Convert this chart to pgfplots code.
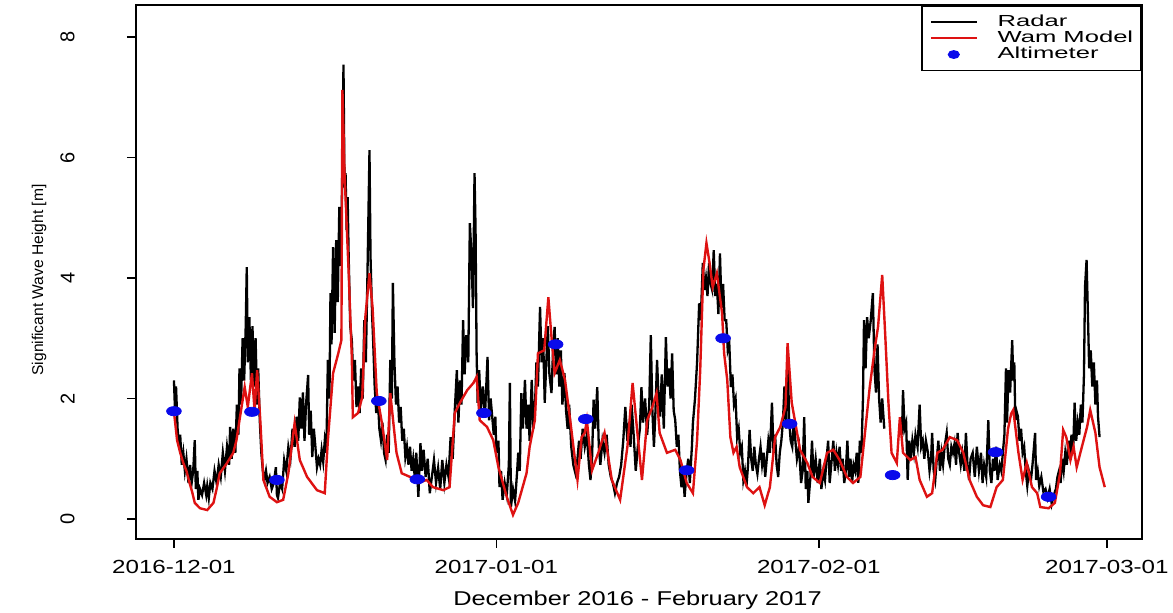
\documentclass[border=0pt]{standalone}
\usepackage{fontspec}
\setmainfont{Liberation Sans}[FakeStretch=1.27]
\newfontfamily\plainsans{Liberation Sans}
\newfontfamily\legfont{Liberation Sans}[FakeStretch=1.6]
\usepackage{pgfplots}
\usepackage{pgfplotstable}
\pgfplotsset{compat=1.18}
\definecolor{wamred}{RGB}{222,18,18}
\definecolor{altblue}{RGB}{10,10,235}

\pgfplotstableread{
x y
0.0 2.3
0.1 1.8
0.2 2.2
0.35 1.5
0.5 1.2
0.6 1.4
0.75 0.9
0.9 1.1
1.05 0.8
1.2 1.0
1.4 0.6
1.55 0.9
1.7 0.6
1.85 0.8
2.0 1.31
2.1 0.5
2.25 0.8
2.35 0.32
2.5 0.5
2.7 0.4
2.9 0.6
3.1 0.4
3.2 0.55
3.35 0.35
3.5 0.6
3.7 0.5
3.9 0.8
4.1 0.6
4.3 0.9
4.5 0.7
4.7 1.1
4.9 0.8
5.1 1.2
5.3 0.9
5.4 1.53
5.55 1.0
5.7 1.5
5.9 1.1
6.05 1.9
6.2 1.4
6.3 2.5
6.45 1.9
6.6 3.0
6.75 2.3
6.9 3.2
7.0 4.18
7.1 2.6
7.25 3.35
7.4 2.3
7.55 3.2
7.7 2.2
7.85 3.0
8.0 1.9
8.1 2.5
8.25 1.64
8.4 1.1
8.55 0.8
8.7 0.65
8.85 0.8
9.0 0.6
9.2 0.7
9.4 0.5
9.6 0.6
9.8 0.86
9.9 0.4
10.0 0.35
10.2 0.6
10.4 0.5
10.6 0.98
10.8 0.8
11.0 1.2
11.2 1.0
11.4 1.5
11.6 1.2
11.8 1.7
11.95 1.3
12.1 2.02
12.25 1.5
12.4 2.1
12.55 1.3
12.7 1.9
12.9 2.39
13.0 1.4
13.15 1.8
13.3 1.03
13.45 1.5
13.6 1.2
13.75 0.86
13.9 1.0
14.05 0.9
14.2 1.15
14.35 0.95
14.5 1.3
14.65 1.1
14.8 2.64
14.95 2.0
15.05 3.75
15.15 2.9
15.3 4.51
15.45 3.09
15.6 4.63
15.75 3.6
15.9 5.18
16.05 4.2
16.2 6.0
16.3 7.54
16.4 5.5
16.5 5.74
16.6 4.8
16.7 5.34
16.8 4.35
16.95 3.2
17.1 2.97
17.25 2.3
17.4 2.64
17.55 1.86
17.7 2.2
17.85 1.76
18.0 2.5
18.15 2.0
18.3 3.3
18.45 2.6
18.6 4.0
18.8 6.12
18.9 4.35
19.05 3.4
19.15 2.97
19.3 2.2
19.45 1.76
19.6 2.0
19.75 1.5
19.9 1.31
20.05 1.6
20.2 1.1
20.35 0.98
20.5 1.4
20.65 1.1
20.8 2.64
20.95 2.0
21.05 3.92
21.2 2.59
21.35 1.9
21.5 2.2
21.65 1.6
21.8 1.86
21.95 1.3
22.1 1.5
22.25 1.03
22.4 1.2
22.55 0.9
22.7 1.2
22.85 0.8
23.0 1.0
23.15 0.7
23.3 1.1
23.5 0.37
23.7 1.26
23.85 0.8
24.0 1.15
24.2 0.7
24.4 1.0
24.6 0.43
24.8 0.7
25.0 0.98
25.2 0.6
25.4 0.85
25.6 0.5
25.8 0.98
26.0 0.6
26.2 0.9
26.4 0.7
26.6 1.36
26.8 1.0
27.0 1.8
27.2 2.47
27.35 1.6
27.5 2.3
27.65 1.9
27.8 3.3
27.95 2.4
28.1 3.05
28.3 2.6
28.45 4.91
28.6 4.41
28.75 3.5
28.9 5.74
29.0 4.80
29.1 2.75
29.2 1.93
29.35 2.47
29.5 1.8
29.7 2.2
29.9 1.7
30.15 2.69
30.3 1.64
30.45 2.0
30.6 1.7
30.75 1.4
30.9 1.7
31.0 1.1
31.2 1.3
31.3 0.53
31.45 0.8
31.6 0.32
31.8 0.6
32.0 0.4
32.2 0.9
32.3 2.26
32.4 0.2
32.6 0.5
32.8 0.3
33.0 0.8
33.1 1.1
33.25 0.8
33.4 2.09
33.55 1.5
33.75 2.31
33.9 1.5
34.05 1.9
34.2 1.3
34.4 2.31
34.55 1.5
34.7 1.8
34.85 2.6
35.0 2.2
35.2 3.52
35.35 2.6
35.5 3.0
35.65 1.93
35.8 2.6
35.95 3.2
36.1 2.4
36.3 2.09
36.45 2.8
36.6 3.19
36.75 2.4
36.9 3.0
37.05 2.2
37.2 2.8
37.35 1.9
37.55 2.42
37.7 1.8
37.85 1.5
38.0 1.9
38.2 1.2
38.4 0.9
38.6 0.76
38.8 1.0
38.95 1.3
39.1 1.0
39.3 1.5
39.5 1.2
39.7 1.4
39.9 0.9
40.05 0.65
40.2 1.0
40.35 1.98
40.5 1.5
40.7 2.19
40.85 1.2
41.0 0.9
41.2 1.3
41.4 1.1
41.6 1.4
41.8 0.9
42.0 0.7
42.2 0.6
42.4 0.43
42.6 0.6
42.8 0.7
43.0 0.9
43.2 1.3
43.4 1.86
43.6 1.3
43.75 1.6
43.9 1.2
44.0 1.9
44.2 1.4
44.4 0.8
44.6 1.2
44.8 1.5
44.95 2.19
45.1 1.6
45.3 2.0
45.5 1.4
45.7 1.9
45.85 3.05
46.0 1.8
46.15 1.2
46.3 1.8
46.45 2.64
46.6 2.0
46.75 1.7
46.9 2.4
47.1 1.5
47.3 3.02
47.45 2.2
47.6 2.5
47.75 2.0
47.9 2.75
48.05 1.8
48.2 1.64
48.35 1.2
48.5 1.4
48.65 0.8
48.8 0.53
48.95 0.8
49.1 0.37
49.3 0.8
49.45 1.0
49.6 0.6
49.8 1.2
49.9 1.6
50.1 2.0
50.3 2.6
50.5 3.58
50.65 3.3
50.85 4.25
51.0 3.8
51.15 4.0
51.3 3.7
51.45 4.25
51.6 3.9
51.75 3.8
51.9 4.46
52.05 3.7
52.2 3.9
52.35 3.4
52.5 4.41
52.65 3.5
52.8 3.9
52.95 3.3
53.1 3.3
53.25 2.8
53.4 2.9
53.55 2.19
53.7 2.4
53.85 1.9
54.0 2.0
54.15 1.36
54.3 1.5
54.45 1.1
54.6 1.2
54.75 0.65
54.9 0.8
55.05 0.55
55.2 0.9
55.35 1.48
55.5 1.0
55.65 0.8
55.8 1.2
55.95 0.9
56.1 0.75
56.25 1.0
56.4 1.2
56.55 0.9
56.7 1.1
56.85 0.7
57.0 1.0
57.15 1.3
57.3 1.1
57.5 1.93
57.65 1.1
57.8 1.4
57.95 0.9
58.1 0.7
58.25 1.1
58.4 1.3
58.55 1.6
58.7 2.2
58.85 1.5
59.0 2.85
59.15 1.64
59.3 1.3
59.45 1.2
59.6 1.64
59.75 1.3
59.9 1.0
60.1 1.2
60.3 0.6
60.45 0.8
60.6 1.69
60.75 0.5
60.9 0.8
61.0 0.27
61.2 0.7
61.35 1.3
61.5 0.7
61.7 1.0
61.9 0.6
62.1 1.0
62.25 0.5
62.45 0.8
62.6 0.65
62.75 1.0
62.9 1.3
63.05 0.6
63.2 0.9
63.4 1.3
63.55 0.8
63.7 1.1
63.85 0.9
64.0 1.2
64.15 0.8
64.3 1.0
64.45 0.6
64.6 0.8
64.75 1.3
64.9 0.7
65.05 1.0
65.2 0.6
65.35 0.9
65.5 0.8
65.65 1.1
65.8 0.6
65.95 1.3
66.1 1.1
66.25 2.0
66.35 3.3
66.5 2.5
66.65 3.35
66.8 3.0
67.0 3.3
67.2 3.75
67.35 2.5
67.5 2.1
67.65 2.9
67.8 2.0
67.95 1.6
68.1 2.0
68.3 1.5
68.8 nan
70.0 1.4
70.1 2.14
70.25 1.5
70.4 1.6
70.55 0.65
70.7 1.3
70.85 1.0
71.0 1.3
71.15 1.1
71.3 1.4
71.5 1.2
71.7 1.9
71.85 1.2
72.0 1.3
72.15 1.0
72.3 1.3
72.5 1.1
72.65 0.8
72.8 1.0
72.9 1.43
73.05 0.8
73.2 0.65
73.35 1.0
73.5 1.3
73.65 0.8
73.8 1.1
73.95 0.9
74.1 1.2
74.3 1.43
74.45 1.0
74.6 0.9
74.75 1.2
74.9 1.1
75.05 1.25
75.2 0.9
75.35 1.43
75.5 1.1
75.65 0.9
75.8 1.1
76.0 0.8
76.15 1.43
76.3 0.9
76.45 0.65
76.6 1.0
76.8 1.1
77.0 0.7
77.2 1.2
77.4 0.8
77.6 1.1
77.75 0.6
77.9 0.9
78.1 0.7
78.3 1.64
78.45 0.8
78.6 0.6
78.75 1.0
78.9 0.8
79.05 1.2
79.2 0.65
79.4 0.9
79.55 0.8
79.7 1.1
79.85 1.4
80.0 2.5
80.1 1.6
80.25 2.47
80.4 2.1
80.6 2.97
80.7 2.3
80.8 2.6
80.9 1.64
81.0 1.8
81.15 1.7
81.3 1.3
81.45 1.5
81.6 1.1
81.75 1.2
81.9 0.8
82.05 0.55
82.2 0.8
82.4 0.65
82.55 0.9
82.8 1.43
82.9 0.65
83.05 0.8
83.2 0.55
83.4 0.7
83.6 0.45
83.8 0.5
84.0 0.35
84.2 0.5
84.4 0.25
84.6 0.4
84.8 0.5
84.95 0.7
85.1 0.8
85.25 0.6
85.4 1.0
85.55 0.8
85.7 1.1
85.85 0.9
86.0 1.3
86.15 1.0
86.3 1.4
86.45 1.1
86.6 1.93
86.75 1.3
86.9 1.6
87.05 1.4
87.2 1.9
87.35 1.6
87.5 2.4
87.6 3.85
87.75 4.30
87.85 3.6
88.0 2.5
88.15 2.8
88.3 2.2
88.45 2.6
88.6 1.9
88.75 2.3
88.85 1.7
89.0 1.36
}\radar

\pgfplotstableread{
x y
0 1.78
0.3 1.31
0.6 1.1
0.9 0.93
1.2 0.8
1.5 0.6
1.75 0.45
2.0 0.27
2.5 0.18
3.2 0.15
3.8 0.27
4.1 0.5
4.4 0.76
5.1 0.93
5.7 1.1
6.0 1.3
6.3 1.64
6.8 2.19
7.1 1.86
7.5 2.42
7.75 1.8
8.0 2.47
8.3 1.64
8.6 0.65
9.2 0.37
9.9 0.28
10.5 0.32
11.0 0.76
11.6 1.59
12.1 0.98
12.8 0.7
13.75 0.48
14.5 0.43
14.8 1.31
15.3 2.42
15.8 2.75
16.1 2.97
16.2 7.12
16.4 5.74
16.8 4.08
17.1 2.69
17.2 1.69
17.7 1.76
18.1 2.02
18.4 3.35
18.8 4.08
19.1 3.5
19.5 2.09
20.0 1.59
20.5 0.98
20.8 2.09
21.1 1.59
21.4 1.10
21.9 0.76
22.7 0.70
23.5 0.6
24.3 0.65
24.9 0.53
25.9 0.48
26.5 0.53
27.0 1.76
27.5 1.93
28.2 2.14
28.8 2.26
29.1 2.36
29.4 1.64
30.1 1.53
30.7 1.31
31.2 0.86
32.0 0.37
32.6 0.07
33.1 0.27
33.9 0.76
34.2 1.2
34.7 1.64
35.0 2.75
35.6 2.8
36.0 3.68
36.3 3.02
36.6 2.42
37.1 2.64
37.6 2.31
38.1 1.64
38.8 0.65
39.2 1.36
39.5 1.43
39.7 1.64
40.2 0.81
40.8 1.1
41.4 1.43
42.1 0.65
42.9 0.32
43.6 1.2
44.1 2.26
44.6 1.36
45.0 0.65
45.5 1.64
46.0 1.86
46.4 2.09
46.7 1.43
47.4 1.1
48.2 1.15
48.7 0.98
49.3 0.6
49.9 0.43
50.3 1.31
50.6 2.47
50.9 4.13
51.2 4.58
51.5 4.25
51.8 3.85
52.2 4.08
52.7 3.42
52.9 2.75
53.2 2.31
53.5 1.36
53.8 1.1
54.1 1.2
54.4 0.86
55.1 0.53
55.7 0.43
56.3 0.53
56.8 0.23
57.3 0.53
57.8 1.36
58.3 1.53
58.8 1.86
59.0 2.92
59.4 1.93
59.7 1.64
60.2 1.15
60.9 0.93
61.4 0.70
62.1 0.6
62.8 1.1
63.4 1.15
64.0 0.98
64.7 0.7
65.3 0.6
66.0 0.7
66.4 1.36
66.9 2.19
67.4 2.85
67.7 3.19
68.1 4.05
68.4 3.02
68.7 1.93
69.0 1.10
69.5 0.93
69.8 1.69
70.1 1.10
70.8 0.98
71.3 1.03
71.7 0.65
72.4 0.37
72.9 0.43
73.4 1.1
73.9 1.15
74.6 1.36
75.3 1.31
75.9 1.1
76.5 0.65
77.2 0.37
77.8 0.23
78.5 0.2
79.1 0.53
79.7 0.65
80.2 1.5
80.5 1.75
80.7 1.81
81.2 1.10
81.6 0.65
82.0 0.93
82.5 0.53
83.0 0.43
83.3 0.2
84.1 0.18
84.7 0.27
85.2 0.76
85.5 1.48
85.8 1.36
86.2 0.98
86.5 1.2
86.8 0.86
87.3 1.2
87.8 1.53
88.1 1.81
88.6 1.43
89.0 0.86
89.5 0.53
}\wam

\pgfplotstableread{
x y
0.0 1.79
7.5 1.78
9.9 0.65
19.7 1.96
23.4 0.66
29.8 1.76
36.7 2.90
39.6 1.66
49.3 0.81
52.8 3.00
59.2 1.58
69.1 0.73
79.0 1.11
84.1 0.37
}\alti

\begin{document}
\begin{tikzpicture}
\begin{axis}[
  at={(68pt,37pt)}, anchor=south west,
  scale only axis, width=503pt, height=267pt,
  xmin=-3.65, xmax=93.08, ymin=-0.33, ymax=8.53,
  axis line style={line width=0.8pt, black},
  xtick={0,31,62,89.7},
  xticklabels={2016-12-01,2017-01-01,2017-02-01,2017-03-01},
  ytick={0,2,4,6,8},
  tick align=outside, tick pos=left,
  major tick length=4.5pt,
  every tick/.style={line width=0.8pt, black},
  /pgf/number format/assume math mode=true,
  xticklabel style={font=\fontsize{9.5}{11}\selectfont, anchor=north, inner sep=0pt, yshift=-6pt},
  yticklabel style={font=\plainsans\fontsize{10}{12}\selectfont, rotate=90, anchor=south, inner sep=0pt},
  yticklabel shift=26pt,
  xlabel={December 2016 - February 2017},
  xlabel style={font=\fontsize{10}{12}\selectfont, at={(axis description cs:0.4985,-0.1142)}, anchor=center},
  ylabel={Significant Wave Height [m]},
  ylabel style={font=\plainsans\fontsize{7.8}{9}\selectfont, at={(axis description cs:-0.0964,0.485)}, anchor=center},
  unbounded coords=jump,
  legend cell align=left,
  legend style={at={(1,1)}, anchor=north east, draw=black, line width=0.8pt,
    font=\legfont\fontsize{8}{9}\selectfont, inner xsep=4pt, inner ysep=4pt,
    row sep=0pt, column sep=10pt,
    nodes={inner sep=0pt, text height=6.2pt, text depth=1.95pt}},
]
\addplot[black, line width=1.15pt, legend image code/.code={\draw[black, line width=0.8pt] (0pt,0pt) -- (23pt,0pt);}] table[x=x,y=y] {\radar};
\addlegendentry{Radar}
\addplot[wamred, line width=1.2pt, legend image code/.code={\draw[wamred, line width=0.8pt] (0pt,0pt) -- (23pt,0pt);}] table[x=x,y=y] {\wam};
\addlegendentry{Wam Model}
\addplot[only marks, mark=*, mark size=2.3pt, mark options={altblue, draw=altblue, xscale=1.6},
  legend image code/.code={\fill[altblue] (11.5pt,0pt) ellipse (2.6pt and 1.8pt);}] table[x=x,y=y] {\alti};
\addlegendentry{Altimeter}
\end{axis}
\pgfresetboundingbox
\path[use as bounding box] (0,0) rectangle (586.5pt,306.5pt);
\end{tikzpicture}
\end{document}
